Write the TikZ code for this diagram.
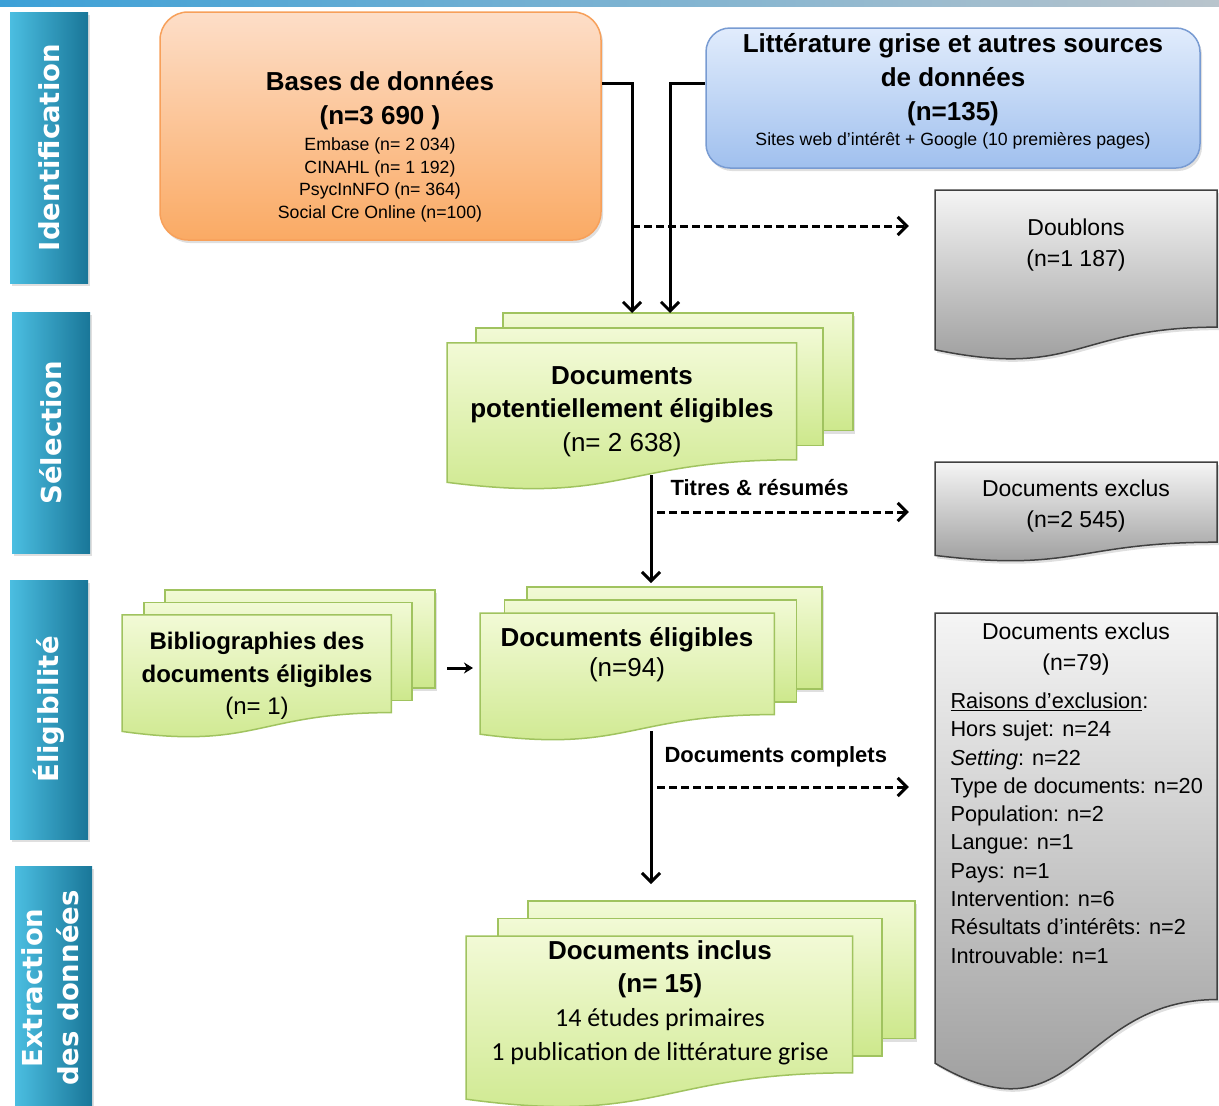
\documentclass[tikz,border=0pt]{standalone}
\usepackage{fontspec}
\setmainfont{Liberation Sans}
\newfontfamily\calibri{Carlito}
\newfontfamily\ongletfont{DejaVu Sans}
\usepackage{tikz}
\usetikzlibrary{arrows.meta, positioning, shadows}

\definecolor{ongletg}{RGB}{75,190,225}
\definecolor{ongletd}{RGB}{25,118,152}
\definecolor{orhaut}{RGB}{253,222,200}
\definecolor{orbas}{RGB}{250,170,100}
\definecolor{orbord}{RGB}{247,160,90}
\definecolor{bleuhaut}{RGB}{225,236,252}
\definecolor{bleubas}{RGB}{160,192,238}
\definecolor{bleubord}{RGB}{120,155,210}
\definecolor{verthaut}{RGB}{242,250,214}
\definecolor{vertbas}{RGB}{205,232,140}
\definecolor{vertbord}{RGB}{160,195,95}
\definecolor{grishaut}{RGB}{245,245,245}
\definecolor{grisbas}{RGB}{150,150,150}
\definecolor{grisbord}{RGB}{64,64,64}

\tikzset{
  ombre/.style={drop shadow={shadow xshift=2pt, shadow yshift=-3pt, opacity=0.25}},
  onglet/.style={left color=ongletg, right color=ongletd, text=white, ombre,
    font={\ongletfont\bfseries\fontsize{27.5}{35}\selectfont}},
  source/.style={line width=1.5pt, ombre},
  vert/.style={draw=vertbord, line width=1.5pt, top color=verthaut, bottom color=vertbas},
  gris/.style={draw=grisbord, line width=1.5pt, top color=grishaut, bottom color=grisbas, ombre},
  titre/.style={font={\bfseries\fontsize{26}{34}\selectfont}, align=center},
  detail/.style={font={\fontsize{17.7}{22.7}\selectfont}, align=center},
  grtxt/.style={font={\fontsize{23}{31}\selectfont}, align=center, minimum width=282pt},
  vtxt/.style={font={\fontsize{26}{33.5}\selectfont}, align=center},
  etiq/.style={font={\bfseries\fontsize{22}{26}\selectfont}, anchor=west},
  flow/.style={line width=3pt, -{Straight Barb[length=9pt,width=18pt]}},
  exclu/.style={flow, dash pattern=on 8pt off 4pt, shorten >=26pt},
}

% pile de documents : x, y, largeur, hauteur
\newcommand{\pile}[4]{%
  \begin{scope}[shift={(#1,#2)}, x=#3pt, y=-#4pt]
    \path[vert, ombre] (0.1376,0) rectangle (1,0.668);
    \path[vert] (0.0709,0.084) rectangle (0.926,0.752);
    \path[vert] (0,0.170) -- (0.861,0.170) -- (0.861,0.834)
      .. controls (0.43,0.834) and (0.43,1.09) .. (0,0.962) -- cycle;
  \end{scope}}

% document gris : x, y, largeur, hauteur
\newcommand{\grisdoc}[4]{%
  \begin{scope}[shift={(#1,#2)}, x=#3pt, y=-#4pt]
    \path[gris] (0,0) -- (1,0) -- (1,0.802)
      .. controls (0.5,0.802) and (0.5,1.107) .. (0,0.934) -- cycle;
  \end{scope}}

\begin{document}
\begin{tikzpicture}[x=1pt, y=-1pt]
    \useasboundingbox (0,0) rectangle (1219,1106);
    % bandeau du haut
    \shade[left color={rgb,255:red,60;green,160;blue,215}, right color={rgb,255:red,185;green,196;blue,204}] (0,0) rectangle (1219,6);

    % onglets des étapes
    \node[onglet, minimum width=78pt, minimum height=271pt] (ident) at (49,147.5) {\rotatebox{90}{Identification}};
    \node[onglet, minimum width=78pt, minimum height=241pt] (selec) at (51,432.5) {\rotatebox{90}{Sélection}};
    \node[onglet, minimum width=78pt, minimum height=259pt] (eligi) at (49,709.5) {\rotatebox{90}{Éligibilité}};
    \node[onglet, minimum width=77pt, minimum height=244pt] (extra) at (53.5,988) {\rotatebox{90}{\begin{tabular}{@{}c@{}}Extraction\\des données\end{tabular}}};

    % sources
    \node[source, draw=orbord, top color=orhaut, bottom color=orbas, rounded corners=28pt,
          minimum width=441pt, minimum height=228pt] (bases) at (380.5,126) {};
    \node[titre] (basest) at (380,101) {Bases de données\\(n=3 690 )};
    \node[detail] (basesd) at (380,180) {Embase (n= 2 034)\\CINAHL (n= 1 192)\\PsycInNFO (n= 364)\\Social Cre Online (n=100)};

    \node[source, draw=bleubord, top color=bleuhaut, bottom color=bleubas, rounded corners=24pt,
          minimum width=494pt, minimum height=140pt] (lit) at (953,98) {};
    \node[titre] (litt) at (953,80) {Littérature grise et autres sources\\de données\\(n=135)};
    \node[detail] (littd) at (953,141) {Sites web d’intérêt + Google (10 premières pages)};

    % documents exclus
    \grisdoc{935}{190}{282}{171}
    \grisdoc{935}{462}{282}{100}
    \grisdoc{935}{613}{282}{482}
    \node[grtxt] (doubl) at (1076,245.5) {Doublons\\(n=1 187)};
    \node[grtxt] (excl1) at (1076,506) {Documents exclus\\(n=2 545)};
    \node[grtxt] (excl2) at (1076,649) {Documents exclus\\(n=79)};
    \node[font={\fontsize{21.7}{28.3}\selectfont}, align=left, anchor=west] (raisons) at (947,828)
      {\underline{Raisons d’exclusion}:\\Hors sujet: n=24\\\textit{Setting}: n=22\\Type de documents: n=20\\Population: n=2\\Langue: n=1\\Pays: n=1\\Intervention: n=6\\Résultats d’intérêts: n=2\\Introuvable: n=1};

    % piles de documents
    \pile{447}{313}{406}{176}
    \pile{122}{590}{313}{147}
    \pile{480}{587}{342}{153}
    \pile{466}{901}{449}{206}
    \node[vtxt] (pot) at (622,411.5) {\textbf{Documents}\\\textbf{potentiellement éligibles}\\(n= 2 638)};
    \node[vtxt, font={\fontsize{24}{32.5}\selectfont}] (bib) at (257,676) {\textbf{Bibliographies des}\\\textbf{documents éligibles}\\(n= 1)};
    \node[vtxt, font={\fontsize{26}{30}\selectfont}] (elig) at (627,655) {\textbf{Documents éligibles}\\(n=94)};
    \node[vtxt, font={\fontsize{26}{33.7}\selectfont}] (incl) at (660,1002.5) {\textbf{Documents inclus}\\\textbf{(n= 15)}\\{\calibri 14 études primaires}\\{\calibri 1 publication de littérature grise}};

    % flèches
    \coordinate (j1) at (632,83);
    \coordinate (j2) at (670,83);
    \coordinate (potin) at (651,313);
    \draw[flow] (bases.east |- j1) -- (j1) -- (j1 |- potin);
    \draw[flow] (lit.west |- j2) -- (j2) -- (j2 |- potin);
    \coordinate (d1) at (632,226);
    \draw[exclu] (d1) -- (doubl.west |- d1);

    \coordinate (potout) at (651,475);
    \coordinate (eligin) at (651,583);
    \draw[flow] (potout) -- (eligin);
    \coordinate (d2) at (657,512);
    \draw[exclu] (d2) -- (excl1.west |- d2);
    \node[etiq] (titres) at (667,488) {Titres \& résumés};

    \coordinate (bibout) at (447,668);
    \coordinate (bibin) at (473,668);
    \draw[line width=3pt, -{Stealth[length=9pt,width=11pt]}] (bibout) -- (bibin);

    \coordinate (eligout) at (651,731);
    \coordinate (inclin) at (651,884);
    \draw[flow] (eligout) -- (inclin);
    \coordinate (d3) at (657,787);
    \draw[exclu] (d3) -- (excl2.west |- d3);
    \node[etiq] (complets) at (661,757) {Documents complets};
\end{tikzpicture}
\end{document}
